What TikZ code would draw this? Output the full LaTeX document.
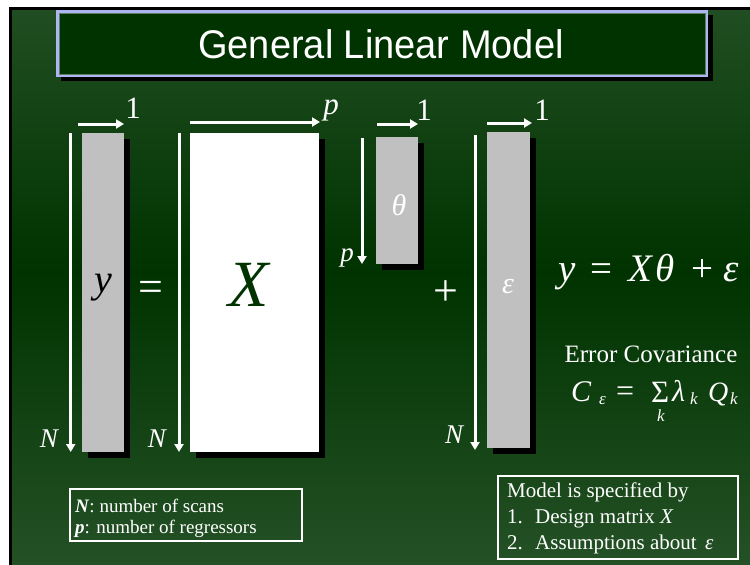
\documentclass[tikz,border=0pt]{standalone}
\usepackage{fontspec}
\setmainfont{Liberation Serif}
\newfontfamily\titlefont{Liberation Sans}
\usetikzlibrary{arrows.meta,shadows}
\definecolor{bglight}{RGB}{50,92,52}
\definecolor{bgdark}{RGB}{0,51,0}
\definecolor{titleblue}{RGB}{172,182,240}
\definecolor{titleinner}{RGB}{95,125,98}
\definecolor{bargray}{RGB}{192,192,192}
\newcommand{\fsz}[1]{\fontsize{#1}{#1}\selectfont}
\begin{document}
\begin{tikzpicture}[x=1pt,y=-1pt,
  dimarrow/.style={white, line width=3pt, -{Triangle[length=8pt,width=9pt]}},
  vecbox/.style={rectangle, inner sep=0pt, outer sep=0pt, anchor=north west,
    drop shadow={shadow xshift=6pt, shadow yshift=-6pt, opacity=1, fill=black}},
  wlbl/.style={text=white, inner sep=0pt},
  framebox/.style={draw=white, line width=1.5pt, inner sep=0pt, anchor=north west},
]
\useasboundingbox (0,0) rectangle (750,565);
\fill[white] (0,0) rectangle (750,565);
\fill[black] (9,7) rectangle (750,565);
\begin{scope}
  \clip (12,10) rectangle (750,565);
  \shade[shading angle=30, top color=bglight, bottom color=bglight, middle color=bgdark]
    (-30,-133) rectangle (780,677);
\end{scope}

% title
\fill[black] (61,15) rectangle (713,81);
\node[rectangle, draw=titleblue, line width=3.5pt, fill=bgdark, inner sep=0pt,
  minimum width=648.5, minimum height=63.5] (titlebox) at (382,43.5) {};
\draw[titleinner, line width=1pt] ([shift={(3,3)}]titlebox.north west) rectangle ([shift={(-3,-3)}]titlebox.south east);
\node[text=white, inner sep=0pt, font=\titlefont\fsz{40}, xscale=0.95] (title) at (381,44) {General Linear Model};

% vectors / matrices
\node[vecbox, fill=bargray, minimum width=42, minimum height=319] (ybar) at (82,133) {};
\node[vecbox, fill=white, minimum width=129, minimum height=319] (xbox) at (190,133) {};
\node[vecbox, fill=bargray, minimum width=42, minimum height=127] (tbar) at (376,137) {};
\node[vecbox, fill=bargray, minimum width=43, minimum height=316] (ebar) at (487,132) {};

\node[inner sep=0pt, font=\fsz{40}\itshape] (ylbl) at (103,288) {y};
\node[inner sep=0pt, text=bgdark, font=\fsz{66}\itshape] (xlbl) at (249,285) {X};
\node[wlbl, font=\fsz{30}\itshape] (tlbl) at (399,205) {θ};
\node[wlbl, font=\fsz{30}\itshape] (elbl) at (508,287) {ε};

% dimension arrows
\draw[dimarrow] ([xshift=-11.3]ybar.north west) -- ([xshift=-11.3]ybar.south west);
\draw[dimarrow] ([shift={(-4,-9)}]ybar.north west) -- ([shift={(0,-9)}]ybar.north east);
\draw[dimarrow] ([xshift=-11]xbox.north west) -- ([xshift=-11]xbox.south west);
\draw[dimarrow] ([shift={(0,-11)}]xbox.north west) -- ([shift={(1,-11)}]xbox.north east);
\draw[dimarrow] ([shift={(-14,1)}]tbar.north west) -- ([xshift=-14]tbar.south west);
\draw[dimarrow] ([shift={(1,-13)}]tbar.north west) -- ([shift={(0,-13)}]tbar.north east);
\draw[dimarrow] ([shift={(-12,3)}]ebar.north west) -- ([shift={(-12,2)}]ebar.south west);
\draw[dimarrow] ([shift={(0,-9)}]ebar.north west) -- ([shift={(2,-9)}]ebar.north east);

% dimension labels
\node[wlbl, font=\fsz{31}] (one1) at (133,108) {1};
\node[wlbl, font=\fsz{31}\itshape] (p1) at (331,110) {p};
\node[wlbl, font=\fsz{31}] (one2) at (424,110) {1};
\node[wlbl, font=\fsz{31}] (one3) at (542,110) {1};
\node[wlbl, font=\fsz{27}\itshape] (n1) at (49,439) {N};
\node[wlbl, font=\fsz{27}\itshape] (n2) at (157,439) {N};
\node[wlbl, font=\fsz{27}\itshape] (n3) at (454,435) {N};
\node[wlbl, font=\fsz{27}\itshape] (p2) at (347,258) {p};

\node[wlbl, font=\fsz{44}] (eq) at (151,291) {=};
\node[wlbl, font=\fsz{44}] (plus) at (446,293) {+};

% model equation
\node[wlbl, anchor=base west, font=\fsz{39}] (modeleq) at (558,281)
  {\textit{y}\hspace{15pt}=\hspace{16pt}\textit{X}\hspace{2pt}\textit{θ}\hspace{17pt}+\hspace{10pt}\textit{ε}};

% error covariance
\node[wlbl, anchor=base, font=\fsz{25}] (errcov) at (651,362) {Error Covariance};
\node[wlbl, anchor=base west, font=\fsz{30}\itshape] (c1) at (571,401) {C};
\node[wlbl, anchor=base west, font=\fsz{17}\itshape] (c2) at (599,404) {ε};
\node[wlbl, anchor=base west, font=\fsz{32}] (c3) at (616,401) {=};
\node[wlbl, anchor=base west, font=\fsz{31}] (c4) at (651,402) {Σ};
\node[wlbl, anchor=base, font=\fsz{17}\itshape] (c5) at (661,421) {k};
\node[wlbl, anchor=base west, font=\fsz{30}\itshape] (c6) at (672,401) {λ};
\node[wlbl, anchor=base west, font=\fsz{17}\itshape] (c7) at (690,404) {k};
\node[wlbl, anchor=base west, font=\fsz{28}\itshape] (c8) at (708,401) {Q};
\node[wlbl, anchor=base west, font=\fsz{17}\itshape] (c9) at (730,404) {k};

% legend boxes
\node[framebox, minimum width=232, minimum height=52] (legend) at (69,488) {};
\node[wlbl, anchor=base west, font=\fsz{19}] (leg1) at (75,512) {\textbf{\textit{N}}: number of scans};
\node[wlbl, anchor=base west, font=\fsz{19}] (leg2) at (75,533) {\textbf{\textit{p}}: number of regressors};

\node[framebox, minimum width=240, minimum height=83] (spec) at (497,475) {};
\node[wlbl, anchor=base west, font=\fsz{21}] (spec0) at (507,497) {Model is specified by};
\node[wlbl, anchor=base west, font=\fsz{21}] (spec1n) at (507,523) {1.};
\node[wlbl, anchor=base west, font=\fsz{21}] (spec1t) at (535,523) {Design matrix \textit{X}};
\node[wlbl, anchor=base west, font=\fsz{21}] (spec2n) at (507,549) {2.};
\node[wlbl, anchor=base west, font=\fsz{21}] (spec2t) at (535,549) {Assumptions about\hspace{3pt} \textit{ε}};
\end{tikzpicture}
\end{document}
